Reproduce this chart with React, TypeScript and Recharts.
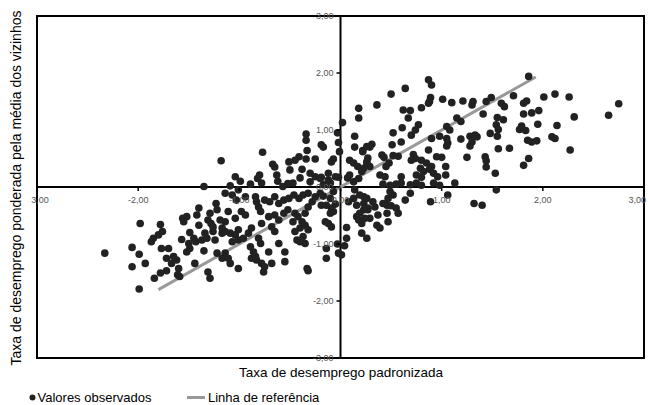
import React from 'react';
import { ScatterChart, Scatter, XAxis, YAxis, ReferenceLine, ReferenceArea, ReferenceDot } from 'recharts';

const FONT = '"Liberation Sans", Arial, sans-serif';

// Tick values and their printed labels
const xTicks = [-3, -2, -1, 0, 1, 2, 3];
const xTickLabels = ['3,00', '-2,00', '-1,00', '0,00', '1,00', '2,00', '3,00'];
const yTicks = [3, 2, 1, 0, -1, -2, -3];
const yTickLabels = ['3,00', '2,00', '1,00', '0,00', '-1,00', '-2,00', '-3,00'];

// Reference line end points (standardized x, spatial lag y)
const refLineX = [-1.8, 1.93];
const refLineY = [-1.8, 1.93];

// Observed values by quadrant: [standardized rate, neighbour-weighted rate]
const highHigh: [number, number][] = [
  [0.02, 1.13], [0.18, 1.38], [0.18, 1.21], [0.14, 0.89], [0.14, 0.7], [0.09, 0.47], [0.13, 0.42], [0.17, 0.36],
  [0.07, 0.16], [0.87, 1.88], [0.9, 1.79], [0.64, 1.73], [0.5, 1.63], [0.89, 1.57], [0.88, 1.5], [0.87, 1.47],
  [1.01, 1.54], [1.1, 1.48], [1.21, 1.51], [1.31, 1.5], [1.3, 1.44], [1.44, 1.5], [1.49, 1.57], [0.36, 1.44],
  [0.62, 1.35], [0.69, 1.34], [0.8, 1.39], [0.67, 1.21], [1.15, 1.21], [1.19, 1.15], [1.41, 1.28], [0.77, 1.09],
  [0.74, 1.0], [0.7, 0.91], [0.61, 1.04], [0.52, 0.95], [1.05, 1.06], [1.08, 1.0], [0.9, 0.85], [0.98, 0.89],
  [1.05, 0.85], [0.6, 0.79], [1.19, 0.84], [1.28, 0.89], [1.33, 0.91], [1.35, 0.88], [1.3, 0.79], [1.28, 0.72],
  [1.48, 0.94], [0.31, 0.75], [0.29, 0.7], [0.51, 0.74], [1.06, 0.77], [1.05, 0.72], [0.22, 0.64], [0.87, 0.65],
  [0.41, 0.56], [0.43, 0.52], [0.52, 0.55], [0.57, 0.54], [0.72, 0.57], [0.74, 0.5], [0.7, 0.47], [0.8, 0.47],
  [0.95, 0.53], [1.0, 0.52], [0.85, 0.42], [0.9, 0.36], [0.88, 0.31], [1.25, 0.52], [1.43, 0.53], [1.44, 0.46],
  [0.27, 0.51], [0.26, 0.42], [0.29, 0.36], [0.23, 0.33], [0.48, 0.42], [0.45, 0.36], [0.79, 0.33], [0.82, 0.27],
  [1.04, 0.36], [1.44, 0.35], [0.39, 0.21], [0.44, 0.18], [0.6, 0.18], [0.75, 0.21], [0.8, 0.17], [0.92, 0.24],
  [0.96, 0.18], [1.04, 0.21], [1.86, 1.94], [1.71, 1.6], [2.01, 1.58], [2.12, 1.63], [2.26, 1.58], [2.75, 1.46],
  [2.65, 1.26], [2.31, 1.23], [1.59, 1.47], [1.62, 1.41], [1.81, 1.47], [1.84, 1.51], [1.81, 1.28], [1.89, 1.3],
  [1.96, 1.34], [1.55, 1.22], [1.61, 1.18], [1.54, 1.09], [1.56, 1.01], [1.55, 0.89], [1.77, 1.01], [1.79, 1.07],
  [1.83, 0.99], [1.95, 1.1], [2.14, 1.08], [2.09, 0.88], [2.12, 0.85], [1.85, 0.82], [1.89, 0.79], [1.94, 0.81],
  [1.56, 0.67], [1.67, 0.68], [2.27, 0.65], [1.86, 0.5], [1.81, 0.38], [1.53, 0.24], [0.09, 0.21], [0.13, 0.09],
  [0.18, 0.15], [0.21, 0.27], [0.26, 0.44], [0.42, 0.05], [0.49, 0.03], [0.55, 0.05], [0.6, 0.07], [0.69, 0.04],
  [0.75, 0.07], [0.8, 0.03], [0.92, 0.07], [0.98, 0.03], [1.13, 0.07], [0.26, 0.71], [0.22, 0.62],
];

const lowHigh: [number, number][] = [
  [-1.18, 0.46], [-0.03, 0.95], [-0.34, 0.93], [-0.34, 0.82], [-0.02, 0.78], [-0.19, 0.74], [-0.17, 0.7], [-0.77, 0.61],
  [-0.33, 0.64], [-0.01, 0.62], [-0.41, 0.53], [-0.45, 0.47], [-0.51, 0.44], [-0.34, 0.49], [-0.25, 0.49], [-0.07, 0.49],
  [-0.09, 0.44], [-0.67, 0.4], [-0.65, 0.35], [-0.5, 0.3], [-0.38, 0.31], [-0.3, 0.24], [-0.12, 0.24], [-1.04, 0.18],
  [-0.8, 0.21], [-0.82, 0.15], [-0.63, 0.21], [-0.25, 0.18], [-0.19, 0.17], [-0.02, 0.17], [-1.35, 0.01], [-0.2, 0.15],
  [-0.17, 0.04], [-0.12, 0.12], [-0.05, 0.18], [-1.09, 0.02], [-0.99, 0.1], [-0.89, 0.05], [-0.78, 0.07], [-0.62, 0.1],
  [-0.47, 0.07], [-0.4, 0.16], [-0.3, 0.09], [-0.1, 0.07], [-0.57, 0.01], [-0.52, 0.06],
];

const lowLow: [number, number][] = [
  [-2.33, -1.16], [-1.99, -1.79], [-1.98, -0.64], [-1.78, -0.66], [-2.06, -1.06], [-1.99, -1.18], [-2.06, -1.4], [-1.93, -1.34],
  [-1.87, -0.96], [-1.85, -0.9], [-1.8, -0.84], [-1.76, -0.78], [-1.77, -1.08], [-1.7, -1.08], [-1.84, -1.6], [-1.78, -1.51],
  [-1.72, -1.47], [-1.72, -1.25], [-1.65, -1.22], [-1.62, -1.28], [-1.67, -1.34], [-1.6, -1.43], [-1.61, -1.54], [-1.59, -1.57],
  [-1.56, -0.55], [-1.55, -0.61], [-1.57, -0.92], [-1.52, -1.14], [-1.49, -1.08], [-1.5, -0.99], [-1.45, -0.9], [-1.43, -0.96],
  [-1.37, -0.93], [-1.42, -0.49], [-1.4, -0.67], [-1.49, -0.8], [-1.31, -0.58], [-1.28, -0.64], [-1.34, -0.81], [-1.32, -0.9],
  [-1.35, -1.12], [-1.44, -1.34], [-1.23, -0.29], [-1.26, -0.78], [-1.24, -0.93], [-1.22, -1.16], [-1.17, -1.25], [-1.31, -1.49],
  [-1.29, -1.6], [-1.17, -0.81], [-0.84, -0.17], [-0.83, -0.26], [-0.81, -0.35], [-0.79, -0.43], [-1.11, -0.43], [-0.98, -0.43],
  [-0.94, -0.49], [-1.04, -0.55], [-0.75, -0.23], [-0.7, -0.26], [-0.65, -0.17], [-0.61, -0.29], [-0.56, -0.23], [-0.51, -0.2],
  [-0.46, -0.14], [-0.41, -0.2], [-0.37, -0.14], [-0.32, -0.11], [-0.25, -0.17], [-0.2, -0.11], [-0.17, -0.16], [-0.71, -0.52],
  [-0.65, -0.49], [-0.61, -0.58], [-0.56, -0.46], [-0.52, -0.4], [-0.45, -0.46], [-0.42, -0.52], [-0.47, -0.61], [-0.38, -0.61],
  [-0.35, -0.67], [-0.4, -0.72], [-0.32, -0.75], [-0.45, -0.78], [-0.43, -0.93], [-0.37, -0.87], [-0.35, -0.99], [-0.4, -0.96],
  [-0.61, -0.99], [-0.68, -0.7], [-0.65, -0.78], [-0.78, -0.64], [-0.88, -0.72], [-0.91, -0.81], [-0.81, -0.9], [-0.79, -0.99],
  [-1.01, -0.75], [-1.04, -0.84], [-1.09, -0.81], [-1.14, -0.78], [-1.07, -0.96], [-1.01, -0.93], [-0.96, -0.9], [-0.89, -1.05],
  [-0.86, -1.14], [-0.84, -1.22], [-0.88, -1.25], [-0.83, -1.28], [-1.14, -1.16], [-1.11, -1.25], [-1.09, -1.34], [-1.01, -1.43],
  [-0.71, -1.14], [-0.78, -1.34], [-0.75, -1.4], [-0.76, -1.49], [-0.68, -1.34], [-0.55, -1.14], [-0.55, -1.31], [-0.33, -1.43],
  [-0.32, -1.47], [-0.14, -1.25], [-0.02, -1.16], [-0.09, -0.37], [-0.07, -0.43], [-0.1, -0.46], [-0.15, -0.61], [-0.12, -0.64],
  [-0.09, -0.7], [-0.19, -0.32], [-0.28, -0.26], [-0.32, -0.35], [-0.35, -0.46], [-1.14, -0.61], [-0.14, -1.08], [-0.03, -1.0],
  [-0.07, -0.08], [-0.1, -0.2], [-0.14, -0.32], [-0.05, -0.3], [-1.14, -0.11], [-1.07, -0.14], [-1.01, -0.05], [-0.94, -0.17],
  [-1.03, -0.23], [-1.22, -0.4], [-1.19, -0.58], [-1.26, -0.7], [-1.17, -0.72], [-1.29, -0.46], [-1.4, -0.37], [-1.52, -0.52],
];

const highLow: [number, number][] = [
  [0.01, -1.19], [0.06, -0.9], [0.16, -0.52], [0.18, -0.58], [1.06, -0.14], [0.89, -0.26], [1.32, -0.29], [1.4, -0.32],
  [0.69, -0.11], [0.64, -0.23], [0.49, -0.08], [0.52, -0.14], [0.47, -0.2], [0.46, -0.32], [0.5, -0.33], [0.55, -0.37],
  [0.57, -0.46], [0.46, -0.46], [0.47, -0.61], [0.37, -0.49], [0.29, -0.55], [0.27, -0.4], [0.23, -0.4], [0.32, -0.26],
  [0.34, -0.35], [0.42, -0.29], [0.36, -0.67], [0.39, -0.72], [0.21, -0.64], [0.21, -0.81], [0.26, -0.9], [0.23, -0.17],
  [1.54, -0.05], [0.04, -1.03], [0.06, -0.71], [0.14, -0.05], [0.19, -0.14], [0.26, -0.2], [0.13, -0.2], [0.08, -0.26],
  [0.16, -0.32], [0.23, -0.29], [0.27, -0.37], [0.19, -0.46], [0.24, -0.55],
];

const observed = [...highHigh, ...lowHigh, ...lowLow, ...highLow].map(([x, y]) => ({ x, y }));
const refLine = refLineX.map((x, i) => ({ x, y: refLineY[i] }));

const Dot = (p: any) => <circle cx={p.cx} cy={p.cy} r={3.8} fill="#222" />;
const NoDot = () => <g />;

const makeXTick = (label: string, shift: number, anchor: 'middle' | 'end') => (p: any) => (
  <g>
    <line x1={p.cx} x2={p.cx} y1={p.cy + 1} y2={p.cy + 4} stroke="#000" strokeWidth={1.5} />
    <text x={p.cx + shift} y={p.cy + 16} textAnchor={anchor} fontSize={9} fill="#555" fontFamily={FONT}>
      {label}
    </text>
  </g>
);

const makeYTick = (label: string) => (p: any) => (
  <g>
    <line x1={p.cx - 4} x2={p.cx} y1={p.cy} y2={p.cy} stroke="#000" strokeWidth={1.5} />
    <text x={p.cx - 7} y={p.cy + 3} textAnchor="end" fontSize={9} fill="#555" fontFamily={FONT}>
      {label}
    </text>
  </g>
);

export default function App() {
  return (
    <div style={{ position: 'absolute', left: 0, top: 0, width: 648, height: 405, background: '#fff', fontFamily: FONT }}>
      <ScatterChart width={648} height={405} margin={{ top: 16, right: 4, bottom: 47, left: 37 }}>
        <XAxis type="number" dataKey="x" domain={[-3, 3]} hide allowDataOverflow />
        <YAxis type="number" dataKey="y" domain={[-3, 3]} hide allowDataOverflow />
        <ReferenceArea x1={-3} x2={3} y1={-3} y2={3} fill="none" fillOpacity={0} stroke="#000" strokeWidth={2} />
        <Scatter data={refLine} line={{ stroke: '#999', strokeWidth: 3 }} lineType="joint" shape={NoDot} isAnimationActive={false} />
        <Scatter data={observed} shape={Dot} isAnimationActive={false} />
        <ReferenceLine x={0} stroke="#000" strokeWidth={2} />
        <ReferenceLine y={0} stroke="#000" strokeWidth={2} />
        {xTicks.map((v, i) => (
          <ReferenceDot
            key={'xt' + i}
            x={v}
            y={0}
            r={0}
            ifOverflow="visible"
            shape={makeXTick(xTickLabels[i], v === -3 ? 3 : v === 3 ? 2 : 0, v === 3 ? 'end' : 'middle')}
          />
        ))}
        {yTicks.map((v, i) => (
          <ReferenceDot key={'yt' + i} x={0} y={v} r={0} ifOverflow="visible" shape={makeYTick(yTickLabels[i])} />
        ))}
      </ScatterChart>
      <svg width={648} height={405} style={{ position: 'absolute', left: 0, top: 0, pointerEvents: 'none' }}>
        <text x={341} y={377} textAnchor="middle" fontSize={13.5} fill="#000" fontFamily={FONT}>
          Taxa de desemprego padronizada
        </text>
        <text transform="translate(20.5,188) rotate(-90)" textAnchor="middle" fontSize={14} fill="#000" fontFamily={FONT}>
          Taxa de desemprego ponderada pela média dos vizinhos
        </text>
        <circle cx={32.5} cy={397.5} r={3} fill="#222" />
        <text x={37.5} y={401.5} fontSize={13} fill="#000" fontFamily={FONT}>
          Valores observados
        </text>
        <line x1={187} x2={205} y1={397.5} y2={397.5} stroke="#999" strokeWidth={3} />
        <text x={208} y={401.5} fontSize={13} fill="#000" fontFamily={FONT}>
          Linha de referência
        </text>
      </svg>
    </div>
  );
}
